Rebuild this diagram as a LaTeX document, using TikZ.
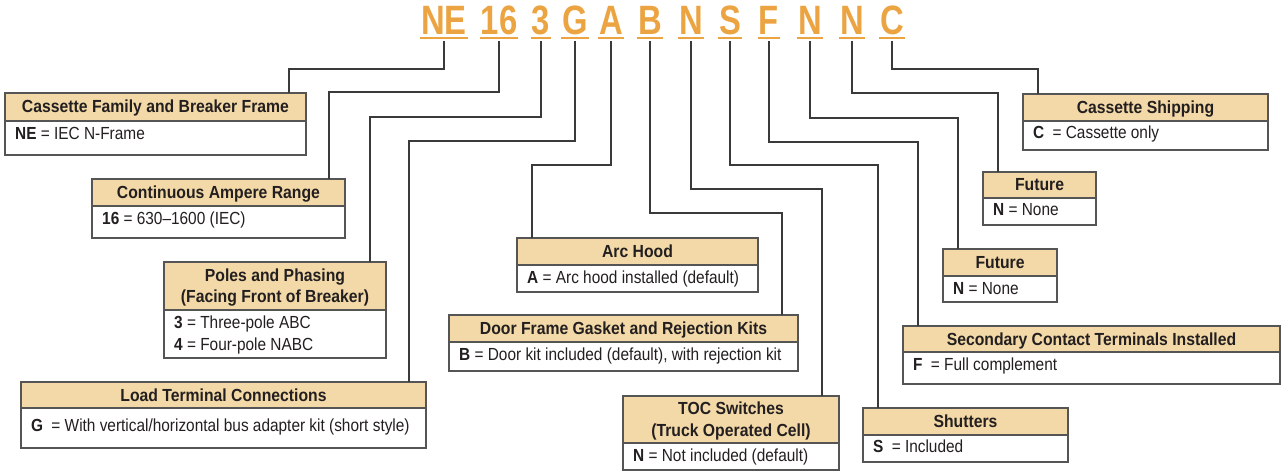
\documentclass[tikz,border=0pt]{standalone}
\usepackage{fontspec}
\setmainfont[FakeStretch=0.88]{Liberation Sans}
\newfontfamily\hdrfont[FakeStretch=0.9]{Liberation Sans}
\newfontfamily\codefont[FakeStretch=0.8]{Liberation Sans}
\definecolor{codeor}{HTML}{EBA441}
\definecolor{hdrtan}{HTML}{F3D9A7}
\definecolor{inkc}{HTML}{231F20}
\definecolor{linec}{HTML}{3A3A3A}
\definecolor{boxc}{HTML}{555555}
\def\hth{12pt}
\def\bth{12pt}
\tikzset{
  codetxt/.style={font=\codefont\bfseries\fontsize{41}{41}\selectfont, text=codeor, inner xsep=1pt, inner ysep=0pt, text depth=0pt, anchor=base},
  uline/.style={draw=codeor, line width=2pt},
  conn/.style={draw=linec, line width=1.3pt},
  hdrbox/.style={draw=boxc, fill=hdrtan, line width=1.2pt, inner sep=0pt, outer sep=0pt},
  bodybox/.style={draw=boxc, fill=white, line width=1.2pt, inner sep=0pt, outer sep=0pt},
  hdrtext/.style={font=\hdrfont\bfseries\fontsize{17.5}{21.5}\selectfont, text=inkc, align=center, inner sep=0pt, text height=\hth, text depth=0pt},
  bodytext/.style={font=\fontsize{17.5}{22}\selectfont, text=inkc, align=left, inner sep=0pt, text height=\bth, text depth=0pt}
}
\newcommand\ordbox[9]{%
  \node[hdrbox, minimum width={#4-#2}, minimum height={#6-#3}, anchor=north west] (#1h) at (#2,#3) {};
  \node[bodybox, minimum width={#4-#2}, minimum height={#5-#6}, anchor=north west] (#1) at (#1h.south west) {};
  \node[hdrtext] (#1ht) at (#1h.center) {#7};
  \node[bodytext, anchor=west] (#1bt) at (#2+10,#9) {#8};
}
\begin{document}
\begin{tikzpicture}[x=1pt,y=-1pt]
\useasboundingbox (0,0) rectangle (1282,473);
% code letters
\foreach \nm/\xx/\tx in {NE/444/NE, s16/499/16, s3/541/3, G/575/G, A/611/A, B/650/B, Na/691/N, S/730/S, F/769/F, Nb/810/N, Nc/852/N, C/892/C}{
  \node[codetxt] (c\nm) at (\xx,35) {\tx};
  \draw[uline] ([yshift=-3pt]c\nm.south west) -- ([yshift=-3pt]c\nm.south east);
}
% boxes
\ordbox{b1}{5}{93}{306}{155}{121}{Cassette Family and Breaker Frame}{\textbf{NE} = IEC N-Frame}{133.5}
\ordbox{b2}{92}{179}{345}{238}{206}{Continuous Ampere Range}{\textbf{16} = 630–1600 (IEC)}{218.5}
\def\hth{33.5pt}\def\bth{34pt}
\ordbox{b3}{164}{262}{386}{358}{310}{Poles and Phasing\\(Facing Front of Breaker)}{\textbf{3} = Three-pole ABC\\\textbf{4} = Four-pole NABC}{333}
\def\bth{12pt}
\ordbox{b7}{623}{396}{839}{470}{443}{TOC Switches\\(Truck Operated Cell)}{\textbf{N} = Not included (default)}{455.5}
\def\hth{12pt}
\ordbox{b4}{21}{382}{426}{448}{408}{Load Terminal Connections}{\textbf{G}\hspace{4pt} = With vertical/horizontal bus adapter kit (short style)}{425}
\ordbox{b5}{517}{238}{758}{292}{265}{Arc Hood}{\textbf{A} = Arc hood installed (default)}{277}
\ordbox{b6}{449}{315}{798}{371}{342}{Door Frame Gasket and Rejection Kits}{\textbf{B} = Door kit included (default), with rejection kit}{354}
\ordbox{b8}{1023}{94}{1268}{150}{121}{Cassette Shipping}{\textbf{C}\hspace{4pt} = Cassette only}{133}
\ordbox{b9}{983}{172}{1096}{225}{198}{Future}{\textbf{N} = None}{209.5}
\ordbox{b10}{943}{249}{1057}{302}{276}{Future}{\textbf{N} = None}{288}
\ordbox{b11}{903}{326}{1280}{384}{352}{Secondary Contact Terminals Installed}{\textbf{F}\hspace{4pt} = Full complement}{364.5}
\ordbox{b12}{863}{408}{1068}{462}{435}{Shutters}{\textbf{S}\hspace{4pt} = Included}{446.5}
% connectors
\draw[conn] ([yshift=-6pt]cNE.south) |- (289,69) -- (289,69 |- b1h.north);
\draw[conn] ([yshift=-6pt]cs16.south) |- (329,92) -- (329,92 |- b2h.north);
\draw[conn] ([yshift=-6pt]cs3.south) |- (370,117) -- (370,117 |- b3h.north);
\draw[conn] ([yshift=-6pt]cG.south) |- (409,141) -- (409,141 |- b4h.north);
\draw[conn] ([yshift=-6pt]cA.south) |- (532,165) -- (532,165 |- b5h.north);
\draw[conn] ([yshift=-6pt]cB.south) |- (782,213) -- (782,213 |- b6h.north);
\draw[conn] ([yshift=-6pt]cNa.south) |- (822,189) -- (822,189 |- b7h.north);
\draw[conn] ([yshift=-6pt]cS.south) |- (878,165) -- (878,165 |- b12h.north);
\draw[conn] ([yshift=-6pt]cF.south) |- (918,142) -- (918,142 |- b11h.north);
\draw[conn] ([yshift=-6pt]cNb.south) |- (958,118) -- (958,118 |- b10h.north);
\draw[conn] ([yshift=-6pt]cNc.south) |- (998,93) -- (998,93 |- b9h.north);
\draw[conn] ([yshift=-6pt]cC.south) |- (1038,69) -- (1038,69 |- b8h.north);
\end{tikzpicture}
\end{document}
